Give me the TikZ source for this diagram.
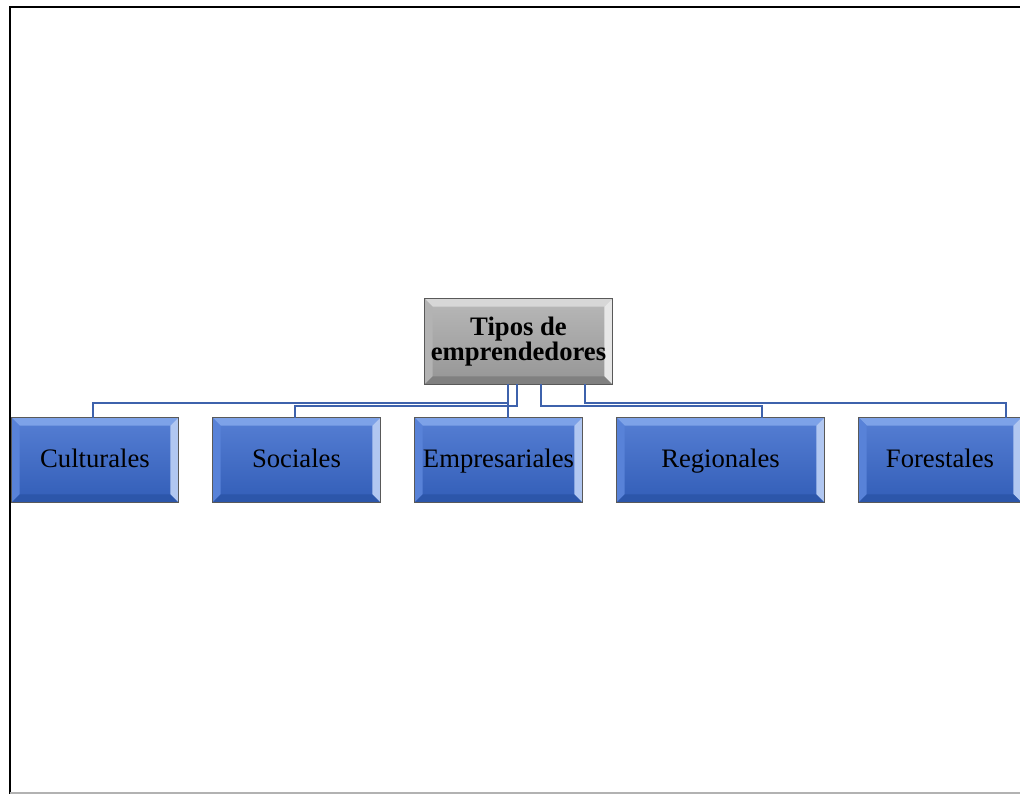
\documentclass[tikz,border=0pt]{standalone}
\usepackage{fontspec}
\setmainfont{Liberation Serif}
\usepackage{tikz}

\definecolor{azulCara}{RGB}{56,104,204}
\definecolor{azulClaro}{RGB}{125,162,232}
\definecolor{azulMedio}{RGB}{88,130,216}
\definecolor{azulOscuro}{RGB}{44,86,170}
\definecolor{grisCara}{RGB}{166,166,166}
\definecolor{grisClaro}{RGB}{215,215,215}
\definecolor{grisOscuro}{RGB}{128,128,128}
\definecolor{linea}{RGB}{62,98,172}

\tikzstyle{Hijo} = [draw=gray!70!blue, line width=0.6pt, top color=azulCara!85!white, bottom color=azulCara!90!black, minimum height=63pt, inner sep=0pt]
\tikzstyle{Raiz} = [draw=gray!80!black, line width=0.6pt, top color=grisCara!80!white, bottom color=grisCara!90!black, minimum width=140.25pt, minimum height=63.75pt, inner sep=0pt]
\tikzstyle{Texto} = [font=\fontsize{20}{22}\selectfont, text height=14pt, text depth=4pt, inner sep=0pt]
\tikzstyle{Linea} = [color=linea, line width=1.7pt]

% bisel: nodo, claro, medio, oscuro
\newcommand{\bisel}[4]{%
  \fill[#2] (#1.north west) -- (#1.north east) -- ([shift={(-6pt,-6pt)}]#1.north east) -- ([shift={(6pt,-6pt)}]#1.north west) -- cycle;
  \fill[#3] (#1.north west) -- ([shift={(6pt,-6pt)}]#1.north west) -- ([shift={(6pt,6pt)}]#1.south west) -- (#1.south west) -- cycle;
  \fill[#2!60!white] (#1.north east) -- ([shift={(-6pt,-6pt)}]#1.north east) -- ([shift={(-6pt,6pt)}]#1.south east) -- (#1.south east) -- cycle;
  \fill[#4] (#1.south west) -- ([shift={(6pt,6pt)}]#1.south west) -- ([shift={(-6pt,6pt)}]#1.south east) -- (#1.south east) -- cycle;
  \draw[line width=0.6pt,gray!70!black] (#1.north west) rectangle (#1.south east);
}

\begin{document}
\begin{tikzpicture}[x=0.75pt,y=-0.75pt]
\useasboundingbox (0,0) rectangle (1020,794);

% marco
\draw[line width=1.5pt,black] (1020,7) -- (10,7) -- (10,794);
\draw[line width=1pt,gray!60] (10,793) -- (1020,793);

% nodos
\node[Raiz] (raiz) at (518.5,341.5) {};
\node[Hijo,minimum width=124.5pt] (culturales) at (95,460) {};
\node[Hijo,minimum width=125.25pt] (sociales) at (296.5,460) {};
\node[Hijo,minimum width=125.25pt] (empresariales) at (498.5,460) {};
\node[Hijo,minimum width=155.25pt] (regionales) at (720.5,460) {};
\node[Hijo,minimum width=121.5pt] (forestales) at (940,460) {};

\bisel{raiz}{grisClaro}{grisCara!85!white}{grisOscuro}
\bisel{culturales}{azulClaro}{azulMedio}{azulOscuro}
\bisel{sociales}{azulClaro}{azulMedio}{azulOscuro}
\bisel{empresariales}{azulClaro}{azulMedio}{azulOscuro}
\bisel{regionales}{azulClaro}{azulMedio}{azulOscuro}
\bisel{forestales}{azulClaro}{azulMedio}{azulOscuro}

% textos
\node[font=\fontsize{20}{19}\selectfont\bfseries,align=center] (raizTexto) at (raiz) {Tipos de\\emprendedores};
\node[Texto] (culturalesTexto) at ([yshift=-0.5pt]culturales) {Culturales};
\node[Texto] (socialesTexto) at ([yshift=-0.5pt]sociales) {Sociales};
\node[Texto] (empresarialesTexto) at ([yshift=-0.5pt]empresariales) {Empresariales};
\node[Texto] (regionalesTexto) at ([yshift=-0.5pt]regionales) {Regionales};
\node[Texto] (forestalesTexto) at ([yshift=-0.5pt]forestales) {Forestales};

% conectores
\coordinate (busA) at (0,403);
\coordinate (busB) at (0,406);

\draw[Linea] ([xshift=-7.875pt]raiz.south) |- ([xshift=-1.5pt]culturales.north |- busA) -- ([xshift=-1.5pt]culturales.north);
\draw[Linea] ([xshift=-1.125pt]raiz.south) |- ([xshift=-1.125pt]sociales.north |- busB) -- ([xshift=-1.125pt]sociales.north);
\draw[Linea] ([xshift=-7.875pt]raiz.south) -- ([xshift=7.125pt]empresariales.north);
\draw[Linea] ([xshift=16.875pt]raiz.south) |- ([xshift=31.125pt]regionales.north |- busB) -- ([xshift=31.125pt]regionales.north);
\draw[Linea] ([xshift=49.875pt]raiz.south) |- ([xshift=49.5pt]forestales.north |- busA) -- ([xshift=49.5pt]forestales.north);

\end{tikzpicture}
\end{document}
